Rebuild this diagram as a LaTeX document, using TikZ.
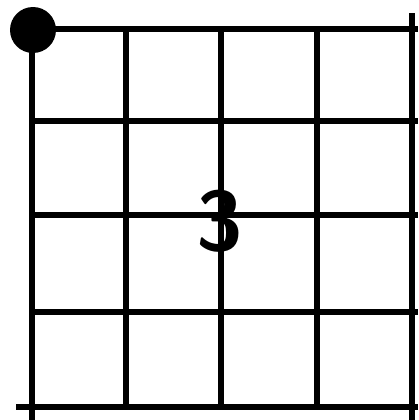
\documentclass[tikz,border=0pt]{standalone}
\usetikzlibrary{positioning}

\begin{document}
\begin{tikzpicture}[x=0.03cm, y=-0.03cm]
  \tikzset{gridline/.style={line width=5pt, black},
           digit/.style={font=\fontsize{72}{72}\selectfont\sffamily\bfseries, inner sep=0pt}}
  \useasboundingbox (0,0) rectangle (418,420);

  % frame lines
  \begin{scope}[gridline]
    \draw (33,29) -- (418,29);
    \draw (32,29) -- (32,420);
    \draw (16,407) -- (418,407);
    \draw (412,13) -- (412,420);
  \end{scope}

  % inner lines
  \begin{scope}[gridline]
    \draw (126,29) -- (126,407);
    \draw (221,29) -- (221,407);
    \draw (317,29) -- (317,407);
    \draw (32,121) -- (418,121);
    \draw (32,215) -- (418,215);
    \draw (32,312) -- (418,312);
  \end{scope}

  % corner dot
  \fill (33,30) circle (23);

  % number
  \node[digit] (three) at (220,221) {3};
\end{tikzpicture}
\end{document}
